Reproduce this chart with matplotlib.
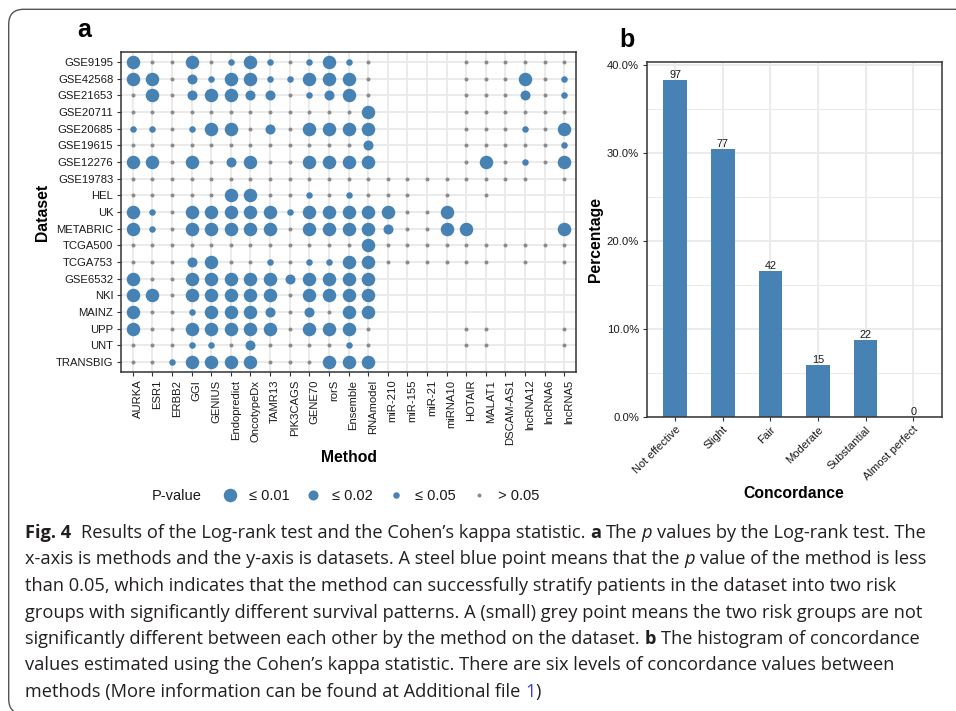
import matplotlib
matplotlib.use("Agg")
import matplotlib.pyplot as plt
from matplotlib.lines import Line2D
from matplotlib.patches import FancyBboxPatch
from matplotlib.transforms import IdentityTransform
from matplotlib.ticker import FuncFormatter, MultipleLocator

plt.rcParams['font.family'] = ['Liberation Sans', 'DejaVu Sans']

# ---- panel a: log-rank p-value class per dataset and method ----
methods = ['AURKA', 'ESR1', 'ERBB2', 'GGI', 'GENIUS', 'Endopredict', 'OncotypeDx',
           'TAMR13', 'PIK3CAGS', 'GENE70', 'rorS', 'Ensemble', 'RNAmodel',
           'miR-210', 'miR-155', 'miR-21', 'miRNA10', 'HOTAIR', 'MALAT1',
           'DSCAM-AS1', 'lncRNA12', 'lncRNA6', 'lncRNA5']
datasets = ['GSE9195', 'GSE42568', 'GSE21653', 'GSE20711', 'GSE20685', 'GSE19615',
            'GSE12276', 'GSE19783', 'HEL', 'UK', 'METABRIC', 'TCGA500', 'TCGA753',
            'GSE6532', 'NKI', 'MAINZ', 'UPP', 'UNT', 'TRANSBIG']
# 3: p <= 0.01, 2: p <= 0.02, 1: p <= 0.05, 0: p > 0.05, '-': not evaluated
# first block = 13 gene signatures, second block = 10 RNA markers
pclass = [
    '3003013101310|----000000',   # GSE9195
    '3302133113330|----000301',   # GSE42568
    '0302332201230|----000201',   # GSE21653
    '0000000000003|----000000',   # GSE20711
    '1101330203333|----000103',   # GSE20685
    '0000000000002|----000001',   # GSE19615
    '3303023003333|----030103',   # GSE12276
    '0000000000000|00000000-0',   # GSE19783
    '0000033001010|00-0-0----',   # HEL
    '3103333313333|3003------',   # UK
    '3103333303333|20033----3',   # METABRIC
    '0000000000003|0000000000',   # TCGA500
    '0002300101133|000000-0-0',   # TCGA753
    '3003333323333|----------',   # GSE6532
    '3303333303333|----------',   # NKI
    '3001333202033|----------',   # MAINZ
    '3003333303330|----00---0',   # UPP
    '0001102000010|----00---0',   # UNT
    '0013333000333|----------',   # TRANSBIG
]
level_codes = ['3', '2', '1', '0']
level_labels = ['\u2264 0.01', '\u2264 0.02', '\u2264 0.05', '> 0.05']

# ---- panel b: Cohen's kappa concordance between method pairs ----
concordance = ['Not effective', 'Slight', 'Fair', 'Moderate', 'Substantial', 'Almost perfect']
pair_counts = [97, 77, 42, 15, 22, 0]

BLUE = '#4682B4'
GREY = '#8C8C8C'
DARK = '#333333'
TXT = '#1A1A1A'
GRID = '#EBEBEB'
level_diam = {'3': 13.5, '2': 10.0, '1': 6.5, '0': 4.0}   # pixel diameters
level_color = {'3': BLUE, '2': BLUE, '1': BLUE, '0': GREY}

W, H = 956, 711
fig = plt.figure(figsize=(W / 100, H / 100), dpi=100)


def px_rect(l, t, r, b):
    return [l / W, 1 - b / H, (r - l) / W, (b - t) / H]


def fx(x):
    return x / W


def fy(y):
    return 1 - y / H


def style_axes(ax):
    for sp in ax.spines.values():
        sp.set_color(DARK)
        sp.set_linewidth(1.1)
    ax.tick_params(length=3, width=0.8, color=DARK, labelcolor=TXT, labelsize=8.1, pad=2.5)
    ax.set_axisbelow(True)


# ---------------- panel a ----------------
ax_a = fig.add_axes(px_rect(121, 52, 576, 372))
cells = [row.replace('|', '') for row in pclass]
for code in level_codes:
    xs, ys = [], []
    for i, row in enumerate(cells):
        for j, c in enumerate(row):
            if c == code:
                xs.append(j)
                ys.append(i)
    ax_a.scatter(xs, ys, s=(level_diam[code] * 0.72) ** 2, c=level_color[code],
                 linewidths=0, zorder=3)

ax_a.set_xticks(range(len(methods)))
ax_a.set_xticklabels(methods, rotation=90, ha='left', va='top')
ax_a.set_yticks(range(len(datasets)))
ax_a.set_yticklabels(datasets)
ax_a.set_xlim(-0.6, len(methods) - 0.4)
ax_a.set_ylim(len(datasets) - 0.4, -0.6)
ax_a.grid(True, color=GRID, lw=1.4)
style_axes(ax_a)

fig.text(fx(348.5), fy(457), 'Method', fontsize=11.3, fontweight='bold',
         ha='center', va='center', color='black')
fig.text(fx(42), fy(212), 'Dataset', fontsize=11.3, fontweight='bold',
         ha='center', va='center', rotation=90, color='black')
fig.text(fx(84), fy(30), 'a', fontsize=18, fontweight='bold', ha='center', va='center')

handles = [Line2D([], [], ls='none', marker='o', ms=level_diam[c] * 0.72,
                  mfc=level_color[c], mec='none') for c in level_codes]
fig.legend(handles, level_labels, ncol=4, loc='center left',
           bbox_to_anchor=(fx(222.7), fy(496)), frameon=False, fontsize=10.5,
           handlelength=1.0, handletextpad=0.8, columnspacing=1.1,
           borderpad=0, borderaxespad=0, labelcolor=TXT)
fig.text(fx(152), fy(496), 'P-value', fontsize=10.5, ha='left', va='center', color=TXT)

# ---------------- panel b ----------------
ax_b = fig.add_axes(px_rect(646.7, 61.7, 941.7, 416.7))
total = sum(pair_counts)
share = [c / total for c in pair_counts]
xpos = list(range(len(concordance)))
ax_b.bar(xpos, share, width=0.5, color=BLUE, zorder=2)
for x, s, c in zip(xpos, share, pair_counts):
    ax_b.text(x, s, str(c), ha='center', va='bottom', fontsize=7.8, color=TXT)

ax_b.set_xlim(-0.6, len(concordance) - 0.4)
ax_b.set_ylim(0, 0.404)
ax_b.yaxis.set_major_locator(MultipleLocator(0.1))
ax_b.yaxis.set_minor_locator(MultipleLocator(0.05))
ax_b.yaxis.set_major_formatter(FuncFormatter(lambda v, _: f'{v * 100:.1f}%'))
ax_b.set_xticks(xpos)
ax_b.set_xticklabels(concordance, rotation=45, ha='right', va='top', rotation_mode='anchor')
ax_b.grid(True, which='major', color=GRID, lw=1.4)
ax_b.grid(True, which='minor', axis='y', color=GRID, lw=0.8)
ax_b.tick_params(which='minor', length=0)
style_axes(ax_b)

fig.text(fx(794), fy(494), 'Concordance', fontsize=11.3, fontweight='bold',
         ha='center', va='center', color='black')
fig.text(fx(596), fy(239), 'Percentage', fontsize=11.3, fontweight='bold',
         ha='center', va='center', rotation=90, color='black')
fig.text(fx(627), fy(40), 'b', fontsize=18, fontweight='bold', ha='center', va='center')

# ---------------- frame and caption ----------------
frame = FancyBboxPatch((8.7, -3), 1000, H - 9.3 + 3,
                       boxstyle='round,pad=0,rounding_size=15',
                       transform=IdentityTransform(), fill=False,
                       ec='#555555', lw=1.0, clip_on=False)
fig.add_artist(frame)

CAP_FONT = ['Open Sans', 'DejaVu Sans']
CAP_COLOR = '#231F20'
caption = [
    [('Fig. 4', 'b'), ('  Results of the Log-rank test and the Cohen\u2019s kappa statistic. ', 'r'),
     ('a', 'b'), (' The ', 'r'), ('p', 'i'), (' values by the Log-rank test. The', 'r')],
    [('x-axis is methods and the y-axis is datasets. A steel blue point means that the ', 'r'),
     ('p', 'i'), (' value of the method is less', 'r')],
    [('than 0.05, which indicates that the method can successfully stratify patients in the dataset into two risk', 'r')],
    [('groups with significantly different survival patterns. A (small) grey point means the two risk groups are not', 'r')],
    [('significantly different between each other by the method on the dataset. ', 'r'),
     ('b', 'b'), (' The histogram of concordance', 'r')],
    [('values estimated using the Cohen\u2019s kappa statistic. There are six levels of concordance values between', 'r')],
    [('methods (More information can be found at Additional file ', 'r'), ('1', 'link'), (')', 'r')],
]

renderer = fig.canvas.get_renderer()


def draw_caption(size, x0=25, y0=538, step=26.5):
    probe = fig.text(0, 0, 'a a', fontsize=size, family=CAP_FONT)
    w_two = probe.get_window_extent(renderer).width
    probe.set_text('aa')
    space_w = w_two - probe.get_window_extent(renderer).width
    probe.remove()

    artists, widths = [], []
    y = y0
    for line in caption:
        x = x0
        for txt, st in line:
            lead = len(txt) - len(txt.lstrip(' '))
            trail = len(txt) - len(txt.rstrip(' '))
            x += lead * space_w
            kw = dict(fontsize=size, family=CAP_FONT, color=CAP_COLOR,
                      ha='left', va='baseline')
            if st == 'b':
                kw['fontweight'] = 'bold'
            elif st == 'i':
                kw['fontstyle'] = 'italic'
            elif st == 'link':
                kw['color'] = '#3A3AE0'
            t = fig.text(fx(x), fy(y), txt.strip(' '), **kw)
            artists.append(t)
            x += t.get_window_extent(renderer).width + trail * space_w
        widths.append(x - x0)
        y += step
    return artists, widths


# fit the first caption line to the text block width
trial, widths = draw_caption(12.0)
for t in trial:
    t.remove()
draw_caption(12.0 * 898 / widths[0])

fig.savefig('out.png', dpi=100)
